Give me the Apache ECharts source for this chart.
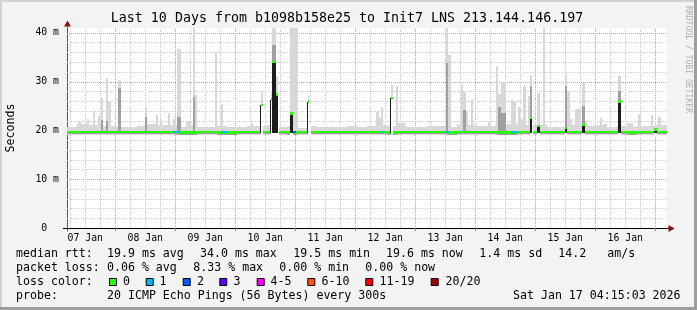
<!DOCTYPE html>
<html><head><meta charset="utf-8">
<script src="https://cdn.jsdelivr.net/npm/echarts@6/dist/echarts.min.js"></script>
<style>html,body{margin:0;padding:0;background:#f3f3f3}#c{width:697px;height:310px}</style>
</head><body><div id="c"></div>
<script>
// ================= DATA =================
const titleText = 'Last 10 Days from b1098b158e25 to Init7 LNS 213.144.146.197';
const yTitle = 'Seconds';
const sideText = 'RRDTOOL / TOBI OETIKER';
// x axis: hours since 07 Jan 00:00
const xMin = 4.7, xMax = 244.7;
const xLabels = ['07 Jan','08 Jan','09 Jan','10 Jan','11 Jan','12 Jan','13 Jan','14 Jan','15 Jan','16 Jan'];
const xLabelHours = [12,36,60,84,108,132,156,180,204,228];
const dayLineHours = [24,48,72,96,120,144,168,192,216,240];
const minorLineHours = [6,12,18,30,36,42,54,60,66,78,84,90,102,108,114,126,132,138,150,156,162,174,180,186,198,204,210,222,228,234];
// y axis (ms)
const yMax = 40.96;
const yMajor = [10,20,30,40];
const yMinor = [2,4,6,8,12,14,16,18,22,24,26,28,32,34,36,38];

// baseline smoke: 4-hour segments (start hour), smoke top (ms), median (ms)
const baseStart = [4.7,8.7,12.7,16.7,20.7,24.7,28.7,32.7,36.7,40.7,44.7,48.7,52.7,56.7,60.7,64.7,68.7,72.7,76.7,80.7,84.7,88.7,92.7,96.7,100.7,104.7,108.7,112.7,116.7,120.7,124.7,128.7,132.7,136.7,140.7,144.7,148.7,152.7,156.7,160.7,164.7,168.7,172.7,176.7,180.7,184.7,188.7,192.7,196.7,200.7,204.7,208.7,212.7,216.7,220.7,224.7,228.7,232.7,236.7,240.7];
const baseHi = [20.6,21.2,21.0,20.8,20.8,20.7,20.7,20.8,21.2,21.0,
                21.0,20.6,21.0,20.7,20.6,20.8,20.6,20.7,20.8,20.9,
                21.0,20.7,20.9,20.5,20.8,20.7,20.7,20.7,20.8,20.6,
                20.9,21.0,20.9,20.9,20.7,20.6,20.8,20.9,20.7,21.0,
                21.0,20.8,20.9,21.2,21.2,21.0,21.0,21.0,20.7,20.7,
                21.0,21.0,20.8,21.0,20.7,20.8,20.7,20.9,20.8,21.0];
const baseMed = [19.7,19.7,19.7,19.7,19.7,19.7,19.7,19.7,19.7,19.7,
                 19.7,19.6,19.6,19.7,19.7,19.6,19.6,19.7,19.7,19.7,
                 19.7,19.7,19.6,19.7,19.7,19.7,19.7,19.7,19.7,19.7,
                 19.7,19.7,19.6,19.7,19.7,19.7,19.7,19.7,19.6,19.7,
                 19.7,19.7,19.7,19.6,19.6,19.7,19.7,19.7,19.7,19.7,
                 19.7,19.7,19.7,19.7,19.7,19.7,19.6,19.7,19.7,19.7];

// smoke spikes with median at baseline: [startHour, endHour, top ms, dense-part top ms (0 = none)]
const lightSpikes = [
  [9.1,10.3,21.7,0],[12.7,13.5,22.3,0],[15.1,15.9,24.0,0],[17.1,17.9,22.9,0],
  [18.1,18.9,26.6,22.1],[20.3,21.1,30.7,22.0],[21.1,22.1,26.0,0],[24.9,26.1,30.3,28.7],
  [35.9,36.7,24.7,22.8],[40.3,41.1,23.1,0],[41.9,42.7,22.4,0],[45.1,45.9,23.6,0],
  [47.1,48.3,22.3,0],[48.7,50.1,36.7,22.7],[52.3,54.3,21.7,0],[54.9,56.0,40.9,26.9],
  [56.0,56.8,27.2,0],[64.0,64.8,35.9,0],[66.2,67.0,25.4,0],[78.3,79.1,21.5,0],
  [94.9,96.9,40.9,0],
  [128.3,129.5,23.8,0],[129.5,130.3,22.5,0],[130.3,131.1,24.7,0],[136.3,137.1,29.1,0],
  [137.1,139.9,21.5,0],[156.2,157.0,40.9,33.7],[157.0,158.2,35.4,0],[162.2,163.0,29.3,0],
  [163.0,164.3,27.9,24.2],[164.3,165.1,24.0,0],[166.2,167.0,26.3,0],[173.1,173.9,21.7,0],
  [176.2,177.0,33.2,0],[177.1,178.2,27.4,24.7],[178.2,180.3,30.0,23.5],[182.2,183.2,26.2,0],
  [183.2,184.2,25.9,0],[185.2,186.2,24.7,0],[186.2,187.2,22.4,0],[187.2,188.2,29.1,0],
  [189.2,190.0,27.0,0],[195.0,196.0,40.9,0],[204.8,205.9,28.0,0],[205.9,206.7,22.4,0],
  [207.9,209.9,24.4,0],[211.9,212.7,22.0,0],[217.9,218.8,22.5,0],[219.5,220.7,21.3,0],
  [228.7,231.1,21.5,0],[232.9,234.1,23.3,0],[238.3,239.2,23.1,0],[241.0,242.3,22.7,0]
];
// periods where the median rose: [startHour, endHour, median ms, smoke top ms, dense top ms, solid (1) / open (0)]
const raisedSpikes = [
  [82.2,83.1,25.2,28.0,0,0],[86.3,86.7,26.3,28.0,0,0],[86.7,88.3,34.0,40.9,37.5,1],
  [88.3,88.9,27.3,31.0,0,1],[93.7,94.9,23.5,40.9,0,1],[101.0,101.5,25.9,27.2,0,0],
  [134.3,135.1,26.6,29.3,0,0],[190.0,190.6,22.5,31.3,29.0,1],[192.8,193.9,20.9,27.7,0,1],
  [203.9,204.8,20.5,31.5,29.0,1],[210.8,211.9,21.1,29.6,25.0,1],[225.0,226.2,25.9,31.1,28.0,1],
  [239.6,240.8,20.2,21.0,0,1]
];
// step edges of the median: [startHour, endHour, top ms]
const stepEdges = [[81.8,82.2,25.2],[85.9,86.3,26.3],[100.6,101.0,25.9],[133.9,134.3,26.6]];
// missing data
const gaps = [[88.9,89.5],[101.5,102.3],[190.6,191.2]];
// packet loss periods: [startHour, endHour, loss class]
const lossPeriods = [[47.1,49.9,1],[66.3,69.0,1],[95.1,96.1,2],[130.3,131.1,1],[156.3,157.9,1],[182.3,185.1,1]];

// legend
const lossLabels = ['0','1','2','3','4-5','6-10','11-19','20/20'];
const lossColors = ['#26ff00','#00b8ff','#0059ff','#5e00ff','#ff00ff','#ff5500','#ff0000','#a10000'];
const medianStats = ['19.9 ms avg','34.0 ms max','19.5 ms min','19.6 ms now','1.4 ms sd','14.2','am/s'];
const lossStats = ['0.06 % avg','8.33 % max','0.00 % min','0.00 % now'];
const rowHeads = ['median rtt:','packet loss:','loss color:','probe:'];
const probeText = '20 ICMP Echo Pings (56 Bytes) every 300s';
const dateText = 'Sat Jan 17 04:15:03 2026';

// ================= LAYOUT / STYLE =================
const MONO = '"DejaVu Sans Mono", monospace';
const COL = {light:'#d8d8d8', mid:'#a0a0a0', dark:'#1c1c1c', minorGrid:'#cdcdcd', majorGrid:'#e89494'};
const MED_H = 0.26;
const medianX = [107,200,293.3,386,479.3,558.3,607.3];
const lossX = [107,193.3,279.3,365.3];
const boxX = [109,145.7,182.7,219.3,256.7,307.3,365.3,430.7];
const boxLabelX = [123,159.5,197,233.5,270.5,321.5,379.5,445.5];
const rowY = [254,268,282,296];

function rect(api, t0, t1, v0, v1, fill) {
  const a = api.coord([t0, Math.max(0, v0)]);
  const b = api.coord([t1, Math.min(yMax, v1)]);
  const x = Math.round(a[0]), x2 = Math.round(b[0]);
  const yb = Math.round(a[1]), yt = Math.round(b[1]);
  return {type:'rect', shape:{x:x, y:yt, width:Math.max(1, x2 - x), height:Math.max(1, yb - yt)}, style:{fill:fill}};
}

const gridItems = [];
minorLineHours.forEach(h => gridItems.push([0, h]));
dayLineHours.forEach(h => gridItems.push([1, h]));
yMinor.forEach(v => gridItems.push([2, v]));
yMajor.forEach(v => gridItems.push([3, v]));

const series = [
  { type:'custom', silent:true, data:gridItems,
    renderItem(p, api) {
      const k = api.value(0), v = api.value(1);
      if (k < 2) {
        const x = Math.round(api.coord([v, 0])[0]) + 0.5;
        const y1 = api.coord([v, 0])[1], y2 = api.coord([v, yMax])[1];
        return {type:'line', shape:{x1:x, y1:y1, x2:x, y2:y2}, style:{stroke: k ? COL.majorGrid : COL.minorGrid, lineDash:[1,1], lineWidth:1}};
      }
      const y = Math.round(api.coord([xMin, v])[1]) + 0.5;
      const x1 = api.coord([xMin, v])[0], x2 = api.coord([xMax, v])[0];
      return {type:'line', shape:{x1:x1, y1:y, x2:x2, y2:y}, style:{stroke: k === 3 ? COL.majorGrid : COL.minorGrid, lineDash:[1,1], lineWidth:1}};
    }
  },
  { type:'custom', silent:true, data: baseStart.map((s, i) => [s, (baseStart[i+1] || xMax), baseHi[i], baseMed[i]]),
    renderItem(p, api) {
      const t0 = api.value(0), t1 = api.value(1), hi = api.value(2), m = api.value(3);
      return {type:'group', children:[
        rect(api, t0, t1, 19.1, hi, COL.light),
        rect(api, t0, t1, m - MED_H - 0.25, m - MED_H, COL.mid),
        rect(api, t0, t1, m - MED_H, m + MED_H, lossColors[0])
      ]};
    }
  },
  { type:'custom', silent:true, data: lightSpikes,
    renderItem(p, api) {
      const t0 = api.value(0), t1 = api.value(1), hi = api.value(2), mid = api.value(3);
      const ch = [rect(api, t0, t1, 19.95, hi, COL.light)];
      if (mid > 0) ch.push(rect(api, t0, t1, 19.95, mid, COL.mid));
      return {type:'group', children:ch};
    }
  },
  { type:'custom', silent:true, data: raisedSpikes,
    renderItem(p, api) {
      const t0 = api.value(0), t1 = api.value(1), m = api.value(2), hi = api.value(3), mid = api.value(4), solid = api.value(5);
      const ch = [rect(api, t0, t1, 18.9, m, '#ffffff'), rect(api, t0, t1, m, hi, COL.light)];
      if (mid > 0) ch.push(rect(api, t0, t1, m, mid, COL.mid));
      if (solid) ch.push(rect(api, t0, t1, 19.4, m, COL.dark));
      ch.push(rect(api, t0, t1, m - MED_H, m + MED_H, lossColors[0]));
      return {type:'group', children:ch};
    }
  },
  { type:'custom', silent:true, data: stepEdges,
    renderItem(p, api) { return rect(api, api.value(0), api.value(1), 19.4, api.value(2), COL.dark); }
  },
  { type:'custom', silent:true, data: gaps,
    renderItem(p, api) { return rect(api, api.value(0), api.value(1), 18.9, 21.4, '#ffffff'); }
  },
  { type:'custom', silent:true, data: lossPeriods,
    renderItem(p, api) {
      return rect(api, api.value(0), api.value(1), 19.7 - MED_H, 19.7 + MED_H, lossColors[api.value(2)]);
    }
  }
];

const T = (text, x, y, opt) => Object.assign({type:'text', x:x, y:y, silent:true,
  style:Object.assign({text:text, font:'11.6px ' + MONO, fill:'#000', align:'left', verticalAlign:'middle', textAlign:'left', textVerticalAlign:'middle'}, opt || {})});

const graphics = [
  {type:'rect', silent:true, shape:{x:0, y:0, width:697, height:2}, style:{fill:'#d2d2d2'}},
  {type:'rect', silent:true, shape:{x:0, y:0, width:2, height:310}, style:{fill:'#d2d2d2'}},
  {type:'rect', silent:true, shape:{x:694, y:0, width:3, height:310}, style:{fill:'#9e9e9e'}},
  {type:'rect', silent:true, shape:{x:0, y:307, width:697, height:3}, style:{fill:'#9e9e9e'}},
  T(titleText, 347, 18.6, {font:'13.3px ' + MONO, align:'center', textAlign:'center'}),
  Object.assign(T(yTitle, 0, 0, {align:'center', textAlign:'center'}), {x:11, y:128, rotation:Math.PI/2}),
  Object.assign(T(sideText, 0, 0, {font:'8.1px ' + MONO, fill:'#b0b0b0', align:'center', textAlign:'center'}), {x:688.5, y:59.5, rotation:-Math.PI/2}),
  {type:'line', silent:true, shape:{x1:67.5, y1:26, x2:67.5, y2:231.5}, style:{stroke:'#555', lineWidth:1}},
  {type:'line', silent:true, shape:{x1:63, y1:228.5, x2:669, y2:228.5}, style:{stroke:'#000', lineWidth:1}},
  {type:'polygon', silent:true, shape:{points:[[64,26.5],[71,26.5],[67.5,20.5]]}, style:{fill:'#8b1010'}},
  {type:'polygon', silent:true, shape:{points:[[668.5,225],[668.5,232],[674.5,228.5]]}, style:{fill:'#8b1010'}}
];
rowHeads.forEach((h, i) => graphics.push(T(h, 16, rowY[i])));
medianStats.forEach((s, i) => graphics.push(T(s, medianX[i], rowY[0])));
lossStats.forEach((s, i) => graphics.push(T(s, lossX[i], rowY[1])));
lossLabels.forEach((s, i) => {
  graphics.push({type:'rect', silent:true, shape:{x:boxX[i] + 0.5, y:278.5, width:7, height:7}, style:{fill:lossColors[i], stroke:'#000', lineWidth:1}});
  graphics.push(T(s, boxLabelX[i], rowY[2]));
});
graphics.push(T(probeText, 107, rowY[3]));
graphics.push(T(dateText, 513, rowY[3]));

const chart = echarts.init(document.getElementById('c'), null, {renderer:'canvas', width:697, height:310});
chart.setOption({
  backgroundColor:'#f3f3f3',
  animation:false,
  grid:{left:67, top:28, width:600, height:200, show:true, backgroundColor:'#ffffff', borderWidth:0, containLabel:false},
  xAxis:{type:'value', min:xMin, max:xMax,
    axisLine:{show:false}, splitLine:{show:false},
    axisTick:{show:true, customValues:dayLineHours, length:3, lineStyle:{color:'#d06060'}},
    axisLabel:{customValues:xLabelHours, formatter:v => xLabels[xLabelHours.indexOf(v)] || '', color:'#000', fontFamily:MONO, fontSize:9.8, margin:5}
  },
  yAxis:{type:'value', min:0, max:yMax, interval:10,
    axisLine:{show:false}, axisTick:{show:false}, splitLine:{show:false},
    axisLabel:{formatter:v => (v === 0 ? '0  ' : (v % 10 === 0 ? v + ' m' : '')), color:'#000', fontFamily:MONO, fontSize:9.8, margin:8, showMaxLabel:true}
  },
  series:series,
  graphic:{elements:graphics}
});
</script>
</body></html>
